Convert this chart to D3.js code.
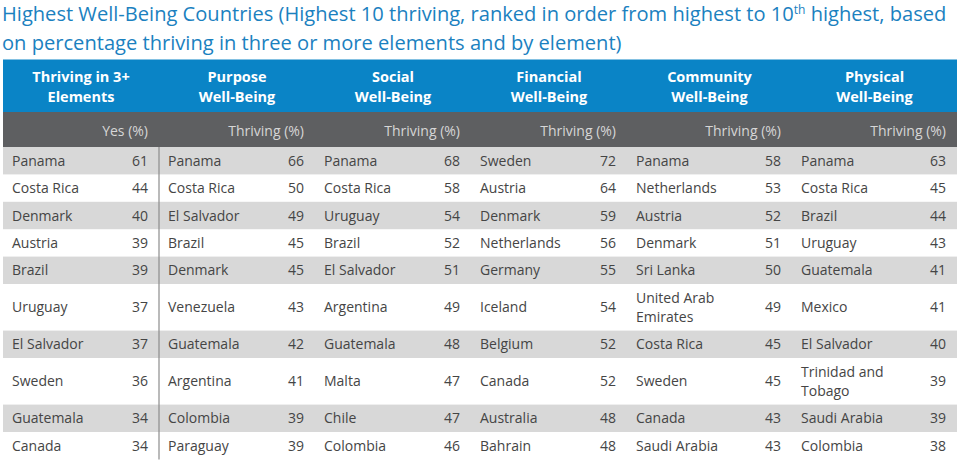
<!DOCTYPE html>
<html>
<head>
<meta charset="utf-8">
<script src="https://cdn.jsdelivr.net/npm/d3@7"></script>
<style>
  html, body { margin: 0; padding: 0; background: #fff; }
  svg { display: block; font-family: "Open Sans", "Noto Sans", sans-serif; }
</style>
</head>
<body>
<svg id="chart" width="960" height="463"></svg>
<script>
// ---------- data ----------
const titleLine1 = "Highest Well-Being Countries (Highest 10 thriving, ranked in order from highest to 10";
const titleSup = "th";
const titleLine1End = " highest, based";
const titleLine2 = "on percentage thriving in three or more elements and by element)";

const headers = [
  ["Thriving in 3+", "Elements"],
  ["Purpose", "Well-Being"],
  ["Social", "Well-Being"],
  ["Financial", "Well-Being"],
  ["Community", "Well-Being"],
  ["Physical", "Well-Being"]
];
const subHeaders = ["Yes (%)", "Thriving (%)", "Thriving (%)", "Thriving (%)", "Thriving (%)", "Thriving (%)"];

const threePlusCountries = ["Panama", "Costa Rica", "Denmark", "Austria", "Brazil", "Uruguay", "El Salvador", "Sweden", "Guatemala", "Canada"];
const threePlusValues    = [61, 44, 40, 39, 39, 37, 37, 36, 34, 34];

const purposeCountries = ["Panama", "Costa Rica", "El Salvador", "Brazil", "Denmark", "Venezuela", "Guatemala", "Argentina", "Colombia", "Paraguay"];
const purposeValues    = [66, 50, 49, 45, 45, 43, 42, 41, 39, 39];

const socialCountries = ["Panama", "Costa Rica", "Uruguay", "Brazil", "El Salvador", "Argentina", "Guatemala", "Malta", "Chile", "Colombia"];
const socialValues    = [68, 58, 54, 52, 51, 49, 48, 47, 47, 46];

const financialCountries = ["Sweden", "Austria", "Denmark", "Netherlands", "Germany", "Iceland", "Belgium", "Canada", "Australia", "Bahrain"];
const financialValues    = [72, 64, 59, 56, 55, 54, 52, 52, 48, 48];

const communityCountries = ["Panama", "Netherlands", "Austria", "Denmark", "Sri Lanka", "United Arab Emirates", "Costa Rica", "Sweden", "Canada", "Saudi Arabia"];
const communityValues    = [58, 53, 52, 51, 50, 49, 45, 45, 43, 43];

const physicalCountries = ["Panama", "Costa Rica", "Brazil", "Uruguay", "Guatemala", "Mexico", "El Salvador", "Trinidad and Tobago", "Saudi Arabia", "Colombia"];
const physicalValues    = [63, 45, 44, 43, 41, 41, 40, 39, 39, 38];

const columnCountries = [threePlusCountries, purposeCountries, socialCountries, financialCountries, communityCountries, physicalCountries];
const columnValues = [threePlusValues, purposeValues, socialValues, financialValues, communityValues, physicalValues];

// ---------- layout ----------
const svg = d3.select("#chart");
const tableLeft = 3, tableRight = 957;
const colWeights = [156, 156, 156, 156, 165, 165];
const totalW = d3.sum(colWeights);
const colEdges = [tableLeft];
colWeights.forEach(w => colEdges.push(colEdges[colEdges.length - 1] + w * (tableRight - tableLeft) / totalW));

const C = {
  title: "#1b81bf",
  blue: "#0a84c6",
  dark: "#5e5f61",
  stripe: "#d8d8d8",
  text: "#454545",
  sub: "#d6d6d6",
  divider: "#8c8c8c"
};

// Title
function fitTitle(textSel, target) {
  const w = textSel.node().getComputedTextLength();
  const fs = parseFloat(textSel.attr("font-size"));
  textSel.attr("font-size", fs * target / w);
}
const t1 = svg.append("text").attr("x", 2).attr("y", 21).attr("font-size", 20).attr("fill", C.title);
t1.append("tspan").text(titleLine1);
t1.append("tspan").attr("font-size", "0.6em").attr("dy", "-0.55em").text(titleSup);
t1.append("tspan").attr("dy", "0.33em").text(titleLine1End);
fitTitle(t1, 945);
const t2 = svg.append("text").attr("x", 2).attr("y", 49.5).attr("font-size", 20).attr("fill", C.title).text(titleLine2);
fitTitle(t2, 620);

// Header bands
const blueTop = 59.5, blueBottom = 112, darkBottom = 147;
svg.append("rect").attr("x", tableLeft).attr("y", blueTop).attr("width", tableRight - tableLeft).attr("height", blueBottom - blueTop).attr("fill", C.blue);
svg.append("rect").attr("x", tableLeft).attr("y", blueBottom).attr("width", tableRight - tableLeft).attr("height", darkBottom - blueBottom).attr("fill", C.dark);

const cols = d3.range(headers.length);
const hdr = svg.append("g").selectAll("text").data(cols).join("text")
  .attr("x", i => (colEdges[i] + colEdges[i + 1]) / 2)
  .attr("y", 82)
  .attr("text-anchor", "middle")
  .attr("font-size", 14.5)
  .attr("font-weight", "bold")
  .attr("fill", "#fff");
hdr.selectAll("tspan").data(i => headers[i]).join("tspan")
  .attr("x", function () { return d3.select(this.parentNode).attr("x"); })
  .attr("dy", (d, j) => j === 0 ? 0 : 19.5)
  .text(d => d);

svg.append("g").selectAll("text").data(cols).join("text")
  .attr("x", i => colEdges[i + 1] - 11)
  .attr("y", 135.5)
  .attr("text-anchor", "end")
  .attr("font-size", 14)
  .attr("fill", C.sub)
  .text(i => subHeaders[i]);

// word wrap helper
const measurer = svg.append("text").attr("font-size", 14).attr("visibility", "hidden");
function wrap(name, maxW) {
  const words = name.split(" ");
  const lines = [];
  let cur = "";
  words.forEach(w => {
    const test = cur ? cur + " " + w : w;
    measurer.text(test);
    if (cur && measurer.node().getComputedTextLength() > maxW) { lines.push(cur); cur = w; }
    else cur = test;
  });
  lines.push(cur);
  return lines;
}
const nRows = threePlusCountries.length;
const cellLines = cols.map(c => columnCountries[c].map(n => wrap(n, 100)));
measurer.remove();

const lineGap = 19.2, baseRowH = 27.4;
const rowLines = d3.range(nRows).map(r => d3.max(cols, c => cellLines[c][r].length));
const rowTops = [darkBottom];
rowLines.forEach(n => rowTops.push(rowTops[rowTops.length - 1] + baseRowH + (n - 1) * lineGap));

// stripes
svg.append("g").selectAll("rect").data(d3.range(nRows).filter(r => r % 2 === 0)).join("rect")
  .attr("x", tableLeft)
  .attr("y", r => rowTops[r])
  .attr("width", tableRight - tableLeft)
  .attr("height", r => rowTops[r + 1] - rowTops[r])
  .attr("fill", C.stripe);

// divider between first and second column
svg.append("line")
  .attr("x1", colEdges[1]).attr("x2", colEdges[1])
  .attr("y1", darkBottom).attr("y2", rowTops[nRows])
  .attr("stroke", C.divider).attr("stroke-width", 1.2);

// cells
const cells = [];
cols.forEach(c => d3.range(nRows).forEach(r => cells.push({ c, r, lines: cellLines[c][r], value: columnValues[c][r] })));

const body = svg.append("g").attr("font-size", 14).attr("fill", C.text);
const mid = d => (rowTops[d.r] + rowTops[d.r + 1]) / 2;

const names = body.selectAll("text.name").data(cells).join("text")
  .attr("class", "name")
  .attr("x", d => colEdges[d.c] + 9)
  .attr("y", d => mid(d) + 5 - (d.lines.length - 1) * lineGap / 2);
names.selectAll("tspan").data(d => d.lines.map((l, j) => ({ l, j, x: colEdges[d.c] + 9 }))).join("tspan")
  .attr("x", d => d.x)
  .attr("dy", d => d.j === 0 ? 0 : lineGap)
  .text(d => d.l);

body.selectAll("text.val").data(cells).join("text")
  .attr("class", "val")
  .attr("x", d => colEdges[d.c + 1] - 11)
  .attr("y", d => mid(d) + 5)
  .attr("text-anchor", "end")
  .text(d => d.value);
</script>
</body>
</html>
